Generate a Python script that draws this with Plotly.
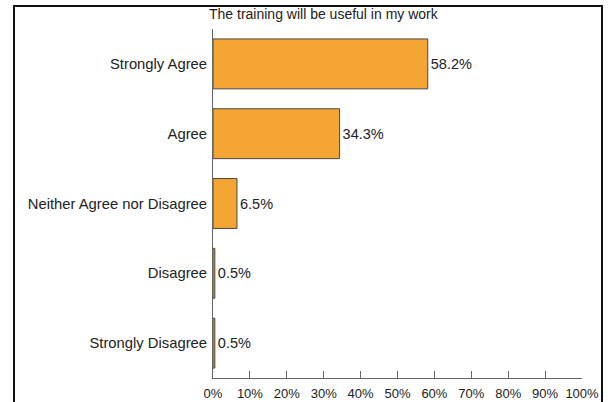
import plotly.graph_objects as go

categories = ["Strongly Agree", "Agree", "Neither Agree nor Disagree", "Disagree", "Strongly Disagree"]
values = [58.2, 34.3, 6.5, 0.5, 0.5]
tick_vals = [0, 10, 20, 30, 40, 50, 60, 70, 80, 90, 100]
tick_text = [f"{v}%" for v in tick_vals]
title_text = "The training will be useful in my work"

W, H = 610, 402
ml, mr, mt, mb = 213, 28, 29, 24
pw, ph = W - ml - mr, H - mt - mb

def px_x(x):
    return (x - ml) / pw

def px_y(y):
    return (H - mb - y) / ph

FONT = "Liberation Sans, Arial, sans-serif"

fig = go.Figure(go.Bar(
    y=categories, x=values, orientation="h",
    marker=dict(color="#F4A533", line=dict(color="#4a4a4a", width=1)),
    text=[f"{v:.1f}%" for v in values], textposition="outside",
    textfont=dict(size=14.5, color="#222222", family=FONT),
    cliponaxis=False, hoverinfo="skip",
))

fig.update_layout(
    width=W, height=H,
    margin=dict(l=ml, r=mr, t=mt, b=mb, autoexpand=False),
    paper_bgcolor="white", plot_bgcolor="white",
    bargap=0.285,
    showlegend=False,
    font=dict(family=FONT, color="#222222"),
    xaxis=dict(range=[0, 100], tickvals=tick_vals, ticktext=tick_text,
               showgrid=False, zeroline=False, showline=True,
               linecolor="#666666", linewidth=1, automargin=False,
               ticks="inside", ticklen=7, tickcolor="#666666",
               ticklabelstandoff=3,
               tickfont=dict(size=13, color="#222222"), fixedrange=True),
    yaxis=dict(autorange="reversed", showgrid=False, zeroline=False,
               showline=True, linecolor="#666666", linewidth=1,
               automargin=False,
               ticks="", ticklabelstandoff=2,
               tickfont=dict(size=14.8, color="#222222")),
    annotations=[dict(text=title_text, xref="paper", yref="paper",
                      x=px_x(324), y=px_y(14), xanchor="center", yanchor="middle",
                      showarrow=False, font=dict(size=14, color="#222222"))],
    shapes=[dict(type="rect", xref="paper", yref="paper",
                 x0=px_x(14), x1=px_x(602), y0=px_y(420), y1=px_y(6),
                 line=dict(color="#111111", width=2), fillcolor="rgba(0,0,0,0)")],
)

fig.write_html("out.html", config={"displayModeBar": False},
               post_script="document.body.style.margin='0px';")
